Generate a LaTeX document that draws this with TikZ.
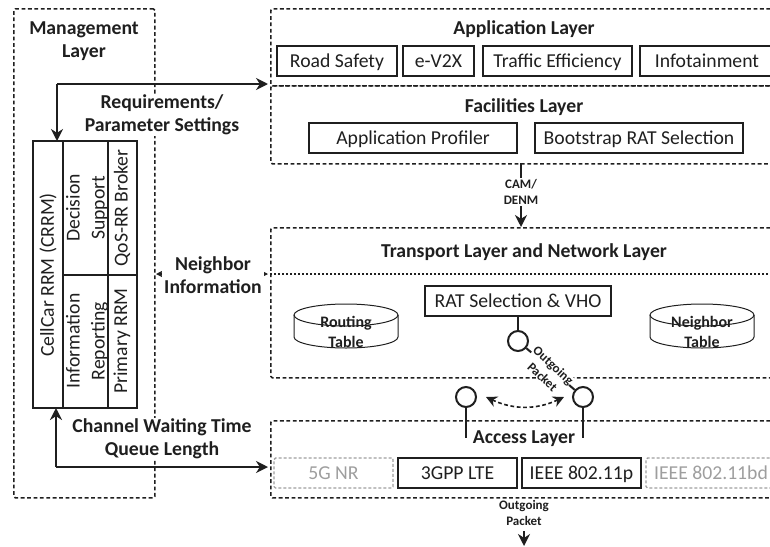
\documentclass[tikz,border=0pt]{standalone}
\usepackage{fontspec}
\setmainfont{Carlito}
\usetikzlibrary{arrows.meta,shapes.geometric}
\definecolor{ink}{gray}{0.12}
\definecolor{faded}{gray}{0.62}
\tikzset{
  layer/.style={draw=ink,line width=1.7pt,dash pattern=on 3.8pt off 2.6pt,rounded corners=1.5pt,anchor=north west,inner sep=0pt},
  block/.style={draw=ink,line width=2pt,minimum height=30pt,inner sep=0pt,text=ink,text height=15pt,text depth=2pt,font=\fontsize{19.7}{24}\selectfont},
  ghost/.style={draw=faded,line width=1.4pt,dash pattern=on 3pt off 2pt,rounded corners=1.5pt,minimum height=30pt,inner sep=0pt,text=faded,text height=15pt,text depth=2pt,font=\fontsize{19.7}{24}\selectfont},
  title/.style={text=ink,align=center,inner sep=0pt,font=\bfseries\fontsize{19.7}{23}\selectfont},
  note/.style={text=ink,align=center,fill=white,inner sep=1pt,font=\bfseries\fontsize{13}{16}\selectfont},
  side/.style={text=ink,align=center,rotate=90,inner sep=0pt,font=\fontsize{19.7}{25}\selectfont},
  tank/.style={draw=ink,line width=1pt,ellipse,minimum width=104pt,minimum height=22pt,inner sep=0pt,outer sep=0pt},
  port/.style={circle,draw=ink,line width=2pt,fill=white,minimum size=20pt,inner sep=0pt},
  link/.style={draw=ink,line width=2pt},
  flow/.style={draw=ink,line width=2pt,-{Stealth[length=12pt,width=12pt]}},
}
\begin{document}
\begin{tikzpicture}[x=1pt,y=-1pt]

        \useasboundingbox (0,0) rectangle (770,546);
        \clip (0,0) rectangle (770,546);

        \begin{scope}[every node/.style={layer}]
          \node[minimum width=141pt,minimum height=489pt] (management) at (13,8) {};
          \node[minimum width=520pt,minimum height=77pt] (application) at (270,8) {};
          \node[minimum width=520pt,minimum height=78pt] (facilities) at (270,85) {};
          \node[minimum width=520pt,minimum height=150pt] (transport) at (270,227) {};
          \node[minimum width=520pt,minimum height=77pt] (access) at (270,420) {};
        \end{scope}

        \coordinate (splitstart) at (270,274);
        \coordinate (splitend) at (770,274);
        \draw[draw=ink,line width=1.2pt,dash pattern=on 2.4pt off 1.6pt] (splitstart) -- (splitend);

        \begin{scope}[every node/.style={title}]
          \node (managementtitle) at (84,41) {Management\\Layer};
          \node (applicationtitle) at (524,29) {Application Layer};
          \node (facilitiestitle) at (524,107) {Facilities Layer};
          \node (transporttitle) at (524,252) {Transport Layer and Network Layer};
          \node (accesstitle) at (524,439) {Access Layer};
        \end{scope}

        \begin{scope}[every node/.style={block}]
          \node[minimum width=120pt] (roadsafety) at (337,61) {Road Safety};
          \node[minimum width=71pt] (ev2x) at (438.5,61) {e-V2X};
          \node[minimum width=149pt] (traffic) at (557.5,61) {Traffic Efficiency};
          \node[minimum width=134pt] (infotainment) at (707,61) {Infotainment};
          \node[minimum width=208pt] (profiler) at (413,138) {Application Profiler};
          \node[minimum width=208pt] (bootstrap) at (639,138) {Bootstrap RAT Selection};
          \node[minimum width=186pt] (ratselection) at (518,301) {RAT Selection \& VHO};
          \node[minimum width=119pt] (lte) at (457.5,473) {3GPP LTE};
          \node[minimum width=119pt] (dsrc) at (581.5,473) {IEEE 802.11p};
        \end{scope}

        \begin{scope}[every node/.style={ghost}]
          \node[minimum width=119pt] (nr) at (333.5,473) {5G NR};
          \node[minimum width=130pt] (nrv2x) at (711,473) {IEEE 802.11bd};
        \end{scope}

        \draw[link] (33,141) rectangle (137,408);
        \coordinate (crrmtop) at (63,141);
        \coordinate (crrmbottom) at (63,408);
        \coordinate (brokertop) at (108,141);
        \coordinate (brokerbottom) at (108,408);
        \coordinate (splitleft) at (63,275);
        \coordinate (splitright) at (137,275);
        \draw[link] (crrmtop) -- (crrmbottom);
        \draw[link] (brokertop) -- (brokerbottom);
        \draw[link] (splitleft) -- (splitright);

        \begin{scope}[every node/.style={side}]
          \node (crrm) at (48,275) {CellCar RRM (CRRM)};
          \node (decision) at (87,208) {Decision\\Support};
          \node (reporting) at (87,341) {Information\\Reporting};
          \node (broker) at (122,208) {QoS-RR Broker};
          \node (primary) at (122,341) {Primary RRM};
        \end{scope}

        \begin{scope}[every node/.style={tank}]
          \node (routing) at (346,315) {};
          \node (neighbor) at (702,315) {};
        \end{scope}
        \draw[draw=ink,line width=1pt] (routing.west) -- ++(0,22) arc[start angle=180,end angle=360,x radius=52pt,y radius=11pt] -- (routing.east);
        \draw[draw=ink,line width=1pt] (neighbor.west) -- ++(0,22) arc[start angle=180,end angle=360,x radius=52pt,y radius=11pt] -- (neighbor.east);

        \begin{scope}[every node/.style={text=ink,align=center,inner sep=0pt,font=\bfseries\fontsize{16}{20}\selectfont}]
          \node (routingtext) at (346,332) {Routing\\Table};
          \node (neighbortext) at (702,332) {Neighbor\\Table};
        \end{scope}

        \coordinate (topcorner) at (57,84);
        \coordinate (topend) at (268,84);
        \coordinate (crrmin) at (57,141);
        \coordinate (bottomcorner) at (56,467);
        \coordinate (bottomend) at (268,467);
        \coordinate (crrmout) at (56,408);
        \coordinate (neighborleft) at (156,274);
        \coordinate (neighborright) at (268,274);

        \draw[flow] (topcorner) -- (topend);
        \draw[flow] (topcorner) -- (crrmin);
        \draw[flow] (bottomcorner) -- (bottomend);
        \draw[flow] (bottomcorner) -- (crrmout);
        \draw[draw=ink,line width=1.2pt,{Stealth[length=7pt,width=7pt]}-{Stealth[length=7pt,width=7pt]}] (neighborleft) -- (neighborright);

        \begin{scope}[every node/.style={title,fill=white,inner xsep=2pt,inner ysep=1pt}]
          \node (requirements) at (162,115) {Requirements/\\Parameter Settings};
          \node (neighborinfo) at (213,275) {Neighbor\\Information};
          \node (channel) at (162,439) {Channel Waiting Time\\Queue Length};
        \end{scope}

        \coordinate (camtop) at (521,163);
        \coordinate (cambottom) at (521,227);
        \draw[flow] (camtop) -- (cambottom);
        \node[note] (cam) at (521,192) {CAM/\\DENM};

        \begin{scope}[every node/.style={port}]
          \node (upper) at (518,341) {};
          \node (leftport) at (466,397) {};
          \node (rightport) at (583,397) {};
        \end{scope}

        \coordinate (leftfoot) at (466,438);
        \coordinate (rightfoot) at (583,438);
        \draw[link] (ratselection) -- (upper);
        \draw[link] (upper) -- (rightport);
        \draw[link] (leftport) -- (leftfoot);
        \draw[link] (rightport) -- (rightfoot);

        \node[note,rotate=-43,fill=white,inner sep=0pt] (outgoing) at (548,371) {Outgoing\\Packet};

        \coordinate (swapleft) at (486,397);
        \coordinate (swapright) at (564,397);
        \draw[draw=ink,line width=1.6pt,dash pattern=on 3.8pt off 2.6pt,{Stealth[length=11pt,width=11pt]}-{Stealth[length=11pt,width=11pt]}] (swapleft) to[bend right=25] (swapright);

        \node[note,fill=none] (leaving) at (524,513) {Outgoing\\Packet};
        \coordinate (leavingend) at (524,546);
        \draw[flow] (leaving) ++(0,18) -- (leavingend);

      \end{tikzpicture}
\end{document}
